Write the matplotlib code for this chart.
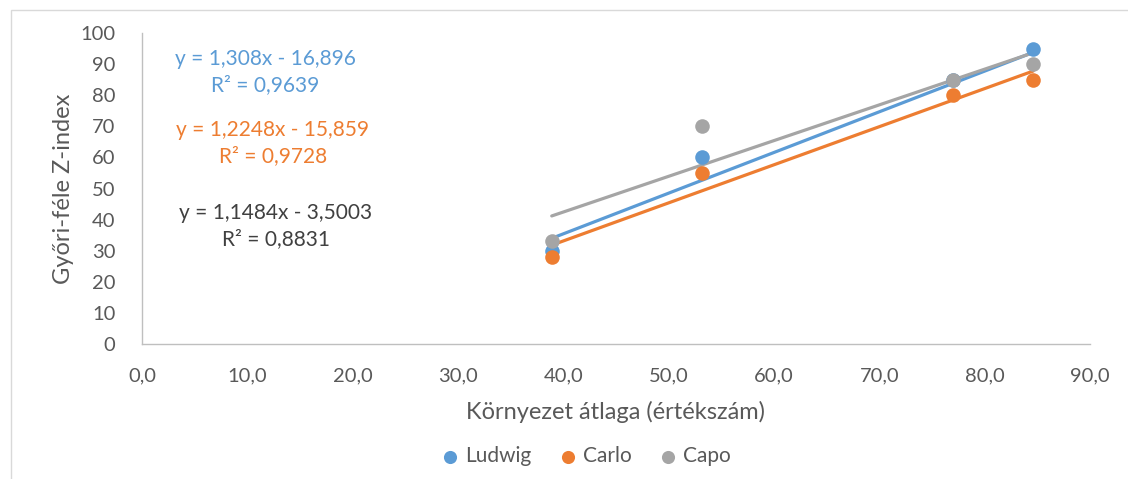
import matplotlib
matplotlib.use("Agg")
import matplotlib.pyplot as plt
from matplotlib.patches import Rectangle
from matplotlib.ticker import FuncFormatter, MultipleLocator

plt.rcParams['font.family'] = ['Lato', 'DejaVu Sans']

# data
names = ["Ludwig", "Carlo", "Capo"]
colors = ["#5B9BD5", "#ED7D31", "#A5A5A5"]
x_vals = [38.9, 53.2, 77.0, 84.6]
ludwig = [30, 60, 85, 95]
carlo = [28, 55, 80, 85]
capo = [33, 70, 85, 90]
series = [ludwig, carlo, capo]
# trendlines as printed on the chart
slopes = [1.308, 1.2248, 1.1484]
intercepts = [-16.896, -15.859, -3.5003]
eq_texts = ["y = 1,308x - 16,896\nR² = 0,9639",
            "y = 1,2248x - 15,859\nR² = 0,9728",
            "y = 1,1484x - 3,5003\nR² = 0,8831"]
eq_colors = ["#5B9BD5", "#ED7D31", "#404040"]
eq_pos = [(265, 72), (273, 143), (276, 226)]  # pixel centres

fig = plt.figure(figsize=(11.28, 4.79), dpi=100)
ax = fig.add_axes([142/1128, 1-344/479, (1090-142)/1128, (344-33)/479])

# chart area border (left and top only visible)
fig.patches.append(Rectangle((11/1128, -0.1), 1.2, 1-10/479+0.1, transform=fig.transFigure,
                             fill=False, edgecolor="#D9D9D9", linewidth=1))

# trendlines first, points on top
xs = [min(x_vals), max(x_vals)]
for i in range(3):
    ys = [slopes[i]*x + intercepts[i] for x in xs]
    ax.plot(xs, ys, color=colors[i], linewidth=2.3, solid_capstyle="round", zorder=2)
for i in range(3):
    ax.scatter(x_vals, series[i], s=110, color=colors[i], label=names[i], zorder=3, linewidths=0)

ax.set_xlim(0, 90)
ax.set_ylim(0, 100)
ax.xaxis.set_major_locator(MultipleLocator(10))
ax.yaxis.set_major_locator(MultipleLocator(10))
ax.xaxis.set_major_formatter(FuncFormatter(lambda v, p: ("%.1f" % v).replace(".", ",")))
ax.yaxis.set_major_formatter(FuncFormatter(lambda v, p: "%d" % v))
ax.tick_params(length=0, labelsize=14.5, colors="#595959", pad=17)
ax.tick_params(axis="y", pad=19)
for s in ["top", "right"]:
    ax.spines[s].set_visible(False)
for s in ["left", "bottom"]:
    ax.spines[s].set_color("#BFBFBF")
    ax.spines[s].set_linewidth(1)

ax.set_xlabel("Környezet átlaga (értékszám)", fontsize=17, color="#595959", labelpad=12)
ax.set_ylabel("Győri-féle Z-index", fontsize=17, color="#595959", labelpad=5)

for i in range(3):
    px, py = eq_pos[i]
    fig.text(px/1128, 1-py/479, eq_texts[i], ha="center", va="center", fontsize=15,
             color=eq_colors[i], linespacing=1.4)

leg = ax.legend(loc="center", bbox_to_anchor=(580/1128, 1-456/479), bbox_transform=fig.transFigure,
                ncol=3, frameon=False, fontsize=15, handletextpad=-0.28, columnspacing=0.75,
                markerscale=0.9)
for t in leg.get_texts():
    t.set_color("#595959")

fig.savefig("out.png", dpi=100)
